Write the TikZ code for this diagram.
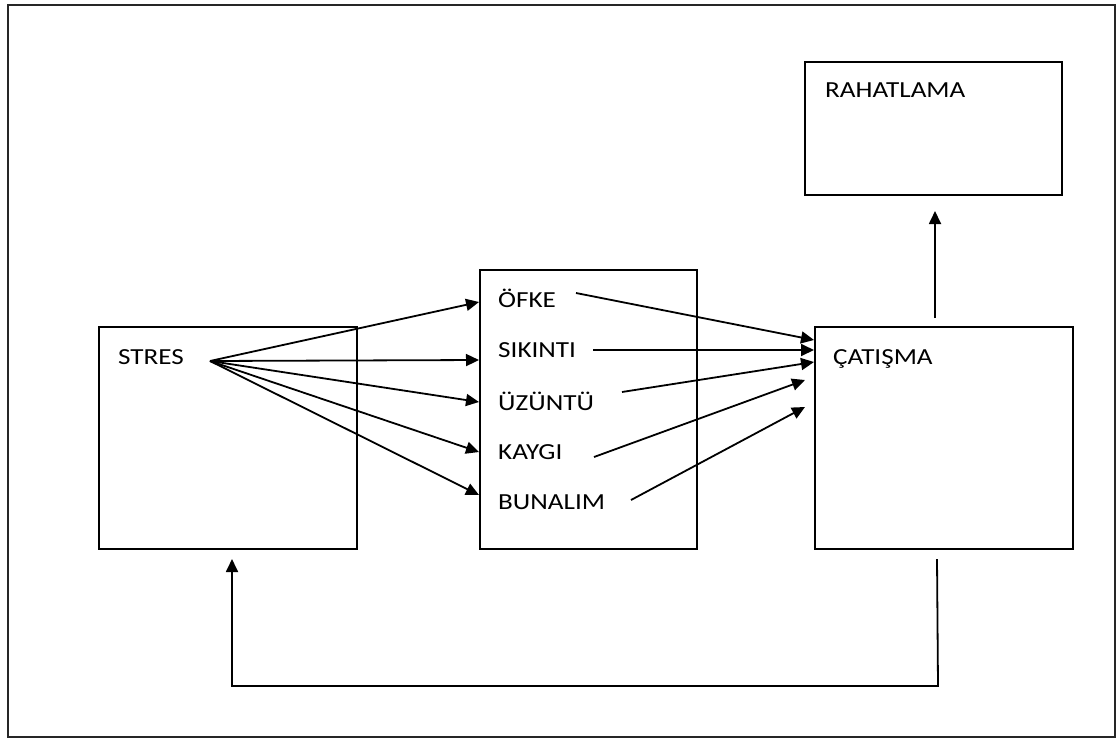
\documentclass[tikz,border=0pt]{standalone}
\usepackage{fontspec}
\setmainfont{Carlito}[FakeStretch=1.18]
\usetikzlibrary{arrows.meta}
\begin{document}
\begin{tikzpicture}[x=1pt,y=-1pt,
  box/.style={draw,line width=1.8pt,inner sep=0pt},
  lbl/.style={anchor=base west,inner sep=0pt,font=\fontsize{23}{26}\selectfont},
  arr/.style={line width=1.8pt,-{Triangle[length=13pt,width=12pt]}}]
  % page frame
  \draw[line width=2.4pt,black!85] (8,5) rectangle (1115,737);
  \useasboundingbox (0,0) rectangle (1118,742);

  % boxes
  \node[box,minimum width=258pt,minimum height=222pt] (stres) at (228,438) {};
  \node[box,minimum width=217pt,minimum height=279pt] (duygu) at (588.5,409.5) {};
  \node[box,minimum width=258pt,minimum height=222pt] (catisma) at (944,438) {};
  \node[box,minimum width=257pt,minimum height=133pt] (rahat) at (933.5,128.5) {};

  % labels
  \node[lbl] (tstres) at (118,364) {STRES};
  \node[lbl] (tofke) at (498,307) {ÖFKE};
  \node[lbl] (tsikinti) at (498,357) {SIKINTI};
  \node[lbl] (tuzuntu) at (498,410) {ÜZÜNTÜ};
  \node[lbl] (tkaygi) at (498,459) {KAYGI};
  \node[lbl] (tbunalim) at (498,509) {BUNALIM};
  \node[lbl] (tcatisma) at (833,364) {ÇATIŞMA};
  \node[lbl] (trahat) at (825,97) {RAHATLAMA};

  % connector ends
  \coordinate (s0) at (210,361);
  \coordinate (e1) at (479,302);
  \coordinate (e2) at (479,360);
  \coordinate (e3) at (479,402);
  \coordinate (e4) at (479,452);
  \coordinate (e5) at (479,495);

  \coordinate (o1) at (576,293);
  \coordinate (o2) at (593,350);
  \coordinate (o3) at (622,392);
  \coordinate (o4) at (594,457);
  \coordinate (o5) at (631,500);
  \coordinate (c1) at (814,340);
  \coordinate (c2) at (814,350);
  \coordinate (c3) at (814,362);
  \coordinate (c4) at (805,380);
  \coordinate (c5) at (805,407);

  \coordinate (u0) at (935,318);
  \coordinate (u1) at (935,211);

  \coordinate (f0) at (937,559);
  \coordinate (f1) at (938,686);
  \coordinate (f2) at (232,686);
  \coordinate (f3) at (232,559);

  % stress to emotions
  \foreach \e in {e1,e2,e3,e4,e5} \draw[arr] (s0) -- (\e);
  % emotions to conflict
  \draw[arr] (o1) -- (c1);
  \draw[arr] (o2) -- (c2);
  \draw[arr] (o3) -- (c3);
  \draw[arr] (o4) -- (c4);
  \draw[arr] (o5) -- (c5);
  % conflict to relief
  \draw[arr] (u0) -- (u1);
  % feedback loop
  \draw[arr] (f0) -- (f1) -- (f2) -- (f3);
\end{tikzpicture}
\end{document}
